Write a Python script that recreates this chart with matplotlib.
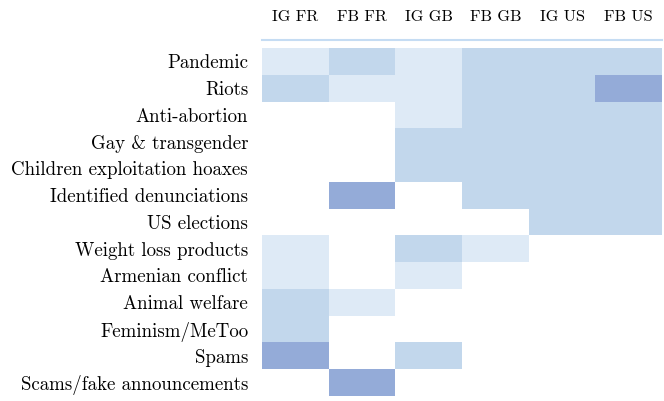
import numpy as np
import matplotlib
matplotlib.use("Agg")
import matplotlib.pyplot as plt
from matplotlib.colors import ListedColormap, BoundaryNorm

plt.rcParams['font.family'] = ['cmr10', 'DejaVu Serif']
plt.rcParams['axes.unicode_minus'] = False

columns = ['IG FR', 'FB FR', 'IG GB', 'FB GB', 'IG US', 'FB US']
topics = ['Pandemic', 'Riots', 'Anti-abortion', 'Gay & transgender',
          'Children exploitation hoaxes', 'Identified denunciations',
          'US elections', 'Weight loss products', 'Armenian conflict',
          'Animal welfare', 'Feminism/MeToo', 'Spams',
          'Scams/fake announcements']

# intensity level per cell: 0 = absent, 1 = light, 2 = medium, 3 = strong
pandemic = [1, 2, 1, 2, 2, 2]
riots = [2, 1, 1, 2, 2, 3]
anti_abortion = [0, 0, 1, 2, 2, 2]
gay_trans = [0, 0, 2, 2, 2, 2]
children_hoaxes = [0, 0, 2, 2, 2, 2]
denunciations = [0, 3, 0, 2, 2, 2]
us_elections = [0, 0, 0, 0, 2, 2]
weight_loss = [1, 0, 2, 1, 0, 0]
armenian = [1, 0, 1, 0, 0, 0]
animal_welfare = [2, 1, 0, 0, 0, 0]
feminism = [2, 0, 0, 0, 0, 0]
spams = [3, 0, 2, 0, 0, 0]
scams = [0, 3, 0, 0, 0, 0]

levels = np.array([pandemic, riots, anti_abortion, gay_trans, children_hoaxes,
                   denunciations, us_elections, weight_loss, armenian,
                   animal_welfare, feminism, spams, scams])

cmap = ListedColormap(['#ffffff', '#deeaf6', '#c2d7ec', '#94abd8'])
norm = BoundaryNorm([-0.5, 0.5, 1.5, 2.5, 3.5], cmap.N)

fig = plt.figure(figsize=(6.64, 4.01), dpi=100)
ax = fig.add_axes([262 / 664, 5 / 401, 400 / 664, 348 / 401])

ax.pcolormesh(levels, cmap=cmap, norm=norm, edgecolor='none')
ax.set_xlim(0, len(columns))
ax.set_ylim(len(topics), 0)

ax.xaxis.tick_top()
ax.set_xticks(np.arange(len(columns)) + 0.5)
ax.set_xticklabels(columns)
ax.set_yticks(np.arange(len(topics)) + 0.5)
ax.set_yticklabels(topics)
ax.tick_params(length=0)
ax.tick_params(axis='y', labelsize=13.6, pad=10)
ax.tick_params(axis='x', labelsize=11.7, pad=11)

for side in ['left', 'right', 'bottom']:
    ax.spines[side].set_visible(False)
ax.spines['top'].set_position(('outward', 6))
ax.spines['top'].set_color('#c5dcf3')
ax.spines['top'].set_linewidth(1.5)

fig.savefig('out.png', dpi=100)
